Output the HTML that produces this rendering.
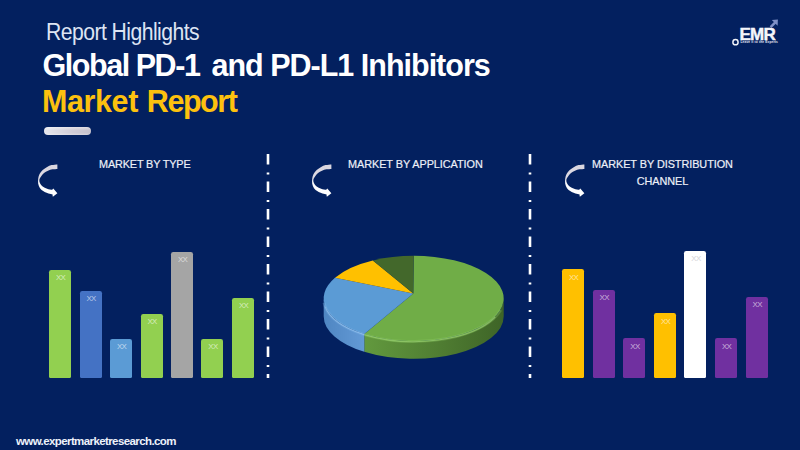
<!DOCTYPE html>
<html><head><meta charset="utf-8">
<style>
html,body{margin:0;padding:0;}
body{width:800px;height:450px;overflow:hidden;background:#03205f;position:relative;font-family:"Liberation Sans",sans-serif;}
.a{position:absolute;white-space:nowrap;line-height:1;}
.t1{left:46px;top:21px;font-size:23.5px;color:#dde4f3;letter-spacing:-0.6px;transform:scaleX(0.9);transform-origin:0 0;}
.t2{left:42.5px;top:50px;font-size:30.5px;font-weight:bold;color:#fff;letter-spacing:-1px;}
.t3{left:42px;top:86px;font-size:30.5px;font-weight:bold;color:#fdc10e;letter-spacing:-0.9px;}
.pill{left:44px;top:127px;width:47px;height:8px;border-radius:4px;background:linear-gradient(rgba(255,255,255,.45),rgba(255,255,255,0) 45%,rgba(255,255,255,0) 70%,rgba(255,255,255,.25)),linear-gradient(to right,#e6e6ee,#d0ccd6 60%,#c4c0cc);}
.h{font-size:11.8px;color:#eef1f8;letter-spacing:-0.05px;-webkit-text-stroke:0.2px #eef1f8;transform:scaleX(0.92);transform-origin:0 0;}
.div{width:3px;}
.bar{position:absolute;width:22px;border-radius:2.2px 2.2px 1.5px 1.5px;}
.xx{position:absolute;top:4.3px;left:0.6px;width:100%;text-align:center;font-size:7.9px;color:rgba(255,255,255,0.62);line-height:1;letter-spacing:-0.55px;}
.url{left:16px;top:436px;font-size:11.5px;font-weight:bold;color:#eef2fa;letter-spacing:-0.6px;}
</style></head><body>
<div class="a t1">Report Highlights</div>
<div class="a t2"><span style="letter-spacing:-1.45px">Global PD-1</span><span style="margin-left:12.1px">and PD-L1 Inhibitors</span></div>
<div class="a t3"><span style="letter-spacing:-0.4px">Market</span><span style="margin-left:8.9px;letter-spacing:-1.45px">Report</span></div>
<div class="a pill"></div>

<div class="a h" style="left:99px;top:159px;letter-spacing:-0.15px">MARKET BY TYPE</div>
<div class="a h" style="left:347.5px;top:159px;">MARKET BY APPLICATION</div>
<div class="a h" style="left:591.7px;text-align:center;line-height:16.5px;top:156px;">MARKET BY DISTRIBUTION<br>CHANNEL</div>

<svg class="a" style="left:0;top:0" width="800" height="450">
<defs>
<linearGradient id="gs" x1="0" y1="0" x2="1" y2="0"><stop offset="0" stop-color="#62993e"/><stop offset="0.5" stop-color="#517f33"/><stop offset="1" stop-color="#3e6427"/></linearGradient>
<linearGradient id="bs" x1="0" y1="0" x2="1" y2="0"><stop offset="0" stop-color="#4f86c2"/><stop offset="1" stop-color="#639ad6"/></linearGradient>
</defs>
<line x1="268" y1="154" x2="268" y2="378" stroke="#fff" stroke-width="2.6" stroke-dasharray="10.5 8 2 7"/>
<line x1="530" y1="154" x2="530" y2="378" stroke="#fff" stroke-width="2.6" stroke-dasharray="10.5 8 2 7"/>
<path d="M503.7,298.4 A90.0,42.6 0 0 1 364.29,334.01 L364.29,351.81 A90.0,42.6 0 0 0 503.7,316.2 Z" fill="url(#gs)"/>
<path d="M364.29,334.01 A90.0,42.6 0 0 1 323.7,298.4 L323.7,316.2 A90.0,42.6 0 0 0 364.29,351.81 Z" fill="url(#bs)"/>
<path d="M413.3,293.6 L413.7,255.8 A90.0,42.6 0 1 1 364.29,334.01 Z" fill="#70ad47"/>
<path d="M413.3,293.6 L364.29,334.01 A90.0,42.6 0 0 1 334.98,277.75 Z" fill="#5b9bd5"/>
<path d="M413.3,293.6 L334.98,277.75 A90.0,42.6 0 0 1 372.84,260.44 Z" fill="#ffc000"/>
<path d="M413.3,293.6 L372.84,260.44 A90.0,42.6 0 0 1 413.7,255.8 Z" fill="#43682b"/>
<path d="M500.63,310.03 A90.0,42.6 0 0 1 364.29,334.61" fill="none" stroke="#93cf68" stroke-width="3.0" opacity="0.3"/>
<path d="M364.29,334.61 A90.0,42.6 0 0 1 324.04,302.71" fill="none" stroke="#86bdf0" stroke-width="3.0" opacity="0.3"/>
<path d="M495.27,317.0 A90.0,42.6 0 0 1 364.29,334.61" fill="none" stroke="#a2da78" stroke-width="1.2" opacity="0.6"/>
<path d="M364.29,334.61 A90.0,42.6 0 0 1 325.07,306.4" fill="none" stroke="#9ccaf4" stroke-width="1.2" opacity="0.6"/>
<circle cx="735.5" cy="42.2" r="2.6" fill="none" stroke="#f0f2f8" stroke-width="1.5"/>
<path d="M770.6,27.2 L775.6,22.2" stroke="#7f90c6" stroke-width="2.6"/>
<path d="M771.8,19.9 L777.9,19.6 L777.6,25.8 Z" fill="#7f90c6"/>
</svg>
<svg width="0" height="0" style="position:absolute"><defs><linearGradient id="ig" x1="0" y1="0" x2="0" y2="1"><stop offset="0" stop-color="#d9d5df"/><stop offset="0.42" stop-color="#dedbe4"/><stop offset="0.58" stop-color="#fbfbfd"/><stop offset="1" stop-color="#ffffff"/></linearGradient></defs></svg>
<svg class="a" style="left:30px;top:160px" width="40" height="40" viewBox="0 0 450 450"><path d="M308,50 C297.1,51.2 261.8,52.9 242.5,57.5 C223.2,62.1 209.2,68.3 192.5,77.5 C175.8,86.7 156.7,99.2 142.5,112.5 C128.3,125.8 115.8,141.7 107.5,157.5 C99.2,173.3 95.0,189.2 92.5,207.5 C90.0,225.8 89.2,249.2 92.5,267.5 C95.8,285.8 102.5,303.3 112.5,317.5 C122.5,331.7 136.7,342.5 152.5,352.5 C168.3,362.5 190.9,371.9 207.5,377.5 C224.1,383.1 244.6,384.6 252.0,386.0 L257,413 L308,375 L262,322 L250,336 C240.4,333.8 210.4,328.9 192.5,322.5 C174.6,316.1 155.8,307.5 142.5,297.5 C129.2,287.5 118.8,275.0 112.5,262.5 C106.2,250.0 103.3,235.0 105.0,222.5 C106.7,210.0 113.8,200.0 122.5,187.5 C131.2,175.0 144.2,158.8 157.5,147.5 C170.8,136.2 186.7,127.1 202.5,120.0 C218.3,112.9 234.9,108.3 252.5,105.0 C270.1,101.7 298.8,100.8 308.0,100.0 Z" fill="url(#ig)"/></svg>
<svg class="a" style="left:304.1px;top:159.7px" width="40" height="40" viewBox="0 0 450 450"><path d="M308,50 C297.1,51.2 261.8,52.9 242.5,57.5 C223.2,62.1 209.2,68.3 192.5,77.5 C175.8,86.7 156.7,99.2 142.5,112.5 C128.3,125.8 115.8,141.7 107.5,157.5 C99.2,173.3 95.0,189.2 92.5,207.5 C90.0,225.8 89.2,249.2 92.5,267.5 C95.8,285.8 102.5,303.3 112.5,317.5 C122.5,331.7 136.7,342.5 152.5,352.5 C168.3,362.5 190.9,371.9 207.5,377.5 C224.1,383.1 244.6,384.6 252.0,386.0 L257,413 L308,375 L262,322 L250,336 C240.4,333.8 210.4,328.9 192.5,322.5 C174.6,316.1 155.8,307.5 142.5,297.5 C129.2,287.5 118.8,275.0 112.5,262.5 C106.2,250.0 103.3,235.0 105.0,222.5 C106.7,210.0 113.8,200.0 122.5,187.5 C131.2,175.0 144.2,158.8 157.5,147.5 C170.8,136.2 186.7,127.1 202.5,120.0 C218.3,112.9 234.9,108.3 252.5,105.0 C270.1,101.7 298.8,100.8 308.0,100.0 Z" fill="url(#ig)"/></svg>
<svg class="a" style="left:556.5px;top:160.1px" width="40" height="40" viewBox="0 0 450 450"><path d="M308,50 C297.1,51.2 261.8,52.9 242.5,57.5 C223.2,62.1 209.2,68.3 192.5,77.5 C175.8,86.7 156.7,99.2 142.5,112.5 C128.3,125.8 115.8,141.7 107.5,157.5 C99.2,173.3 95.0,189.2 92.5,207.5 C90.0,225.8 89.2,249.2 92.5,267.5 C95.8,285.8 102.5,303.3 112.5,317.5 C122.5,331.7 136.7,342.5 152.5,352.5 C168.3,362.5 190.9,371.9 207.5,377.5 C224.1,383.1 244.6,384.6 252.0,386.0 L257,413 L308,375 L262,322 L250,336 C240.4,333.8 210.4,328.9 192.5,322.5 C174.6,316.1 155.8,307.5 142.5,297.5 C129.2,287.5 118.8,275.0 112.5,262.5 C106.2,250.0 103.3,235.0 105.0,222.5 C106.7,210.0 113.8,200.0 122.5,187.5 C131.2,175.0 144.2,158.8 157.5,147.5 C170.8,136.2 186.7,127.1 202.5,120.0 C218.3,112.9 234.9,108.3 252.5,105.0 C270.1,101.7 298.8,100.8 308.0,100.0 Z" fill="url(#ig)"/></svg>
<div class="bar" style="left:49px;top:270.0px;height:107.6px;background:#92d050"><div class="xx">XX</div></div>
<div class="bar" style="left:79.5px;top:290.7px;height:86.9px;background:#4472c4"><div class="xx">XX</div></div>
<div class="bar" style="left:110px;top:338.7px;height:38.9px;background:#5b9bd5"><div class="xx">XX</div></div>
<div class="bar" style="left:140.5px;top:314.0px;height:63.6px;background:#92d050"><div class="xx">XX</div></div>
<div class="bar" style="left:171px;top:252.0px;height:125.6px;background:#a5a5a5"><div class="xx">XX</div></div>
<div class="bar" style="left:201.3px;top:338.7px;height:38.9px;background:#92d050"><div class="xx">XX</div></div>
<div class="bar" style="left:232px;top:297.7px;height:79.9px;background:#92d050"><div class="xx">XX</div></div>
<div class="bar" style="left:562px;top:269.3px;height:108.3px;background:#ffc000"><div class="xx">XX</div></div>
<div class="bar" style="left:592.7px;top:290.0px;height:87.6px;background:#7030a0"><div class="xx">XX</div></div>
<div class="bar" style="left:623.3px;top:338.3px;height:39.3px;background:#7030a0"><div class="xx">XX</div></div>
<div class="bar" style="left:654px;top:313.3px;height:64.3px;background:#ffc000"><div class="xx">XX</div></div>
<div class="bar" style="left:684.3px;top:251.0px;height:126.6px;background:#ffffff"><div class="xx" style="color:#d4d4d8">XX</div></div>
<div class="bar" style="left:715px;top:338.3px;height:39.3px;background:#7030a0"><div class="xx">XX</div></div>
<div class="bar" style="left:745.7px;top:297.0px;height:80.6px;background:#7030a0"><div class="xx">XX</div></div>

<div class="a" style="left:739.5px;top:26.1px;font-size:17px;font-weight:bold;color:#f4f6fb;letter-spacing:-0.75px;-webkit-text-stroke:0.45px #f4f6fb">EMR</div>
<div class="a" style="left:740.5px;top:41.3px;font-size:3.2px;font-weight:bold;color:#e6eaf4;letter-spacing:0.15px">Leave it to the Experts</div>
<div class="a url">www.expertmarketresearch.com</div>
</body></html>
